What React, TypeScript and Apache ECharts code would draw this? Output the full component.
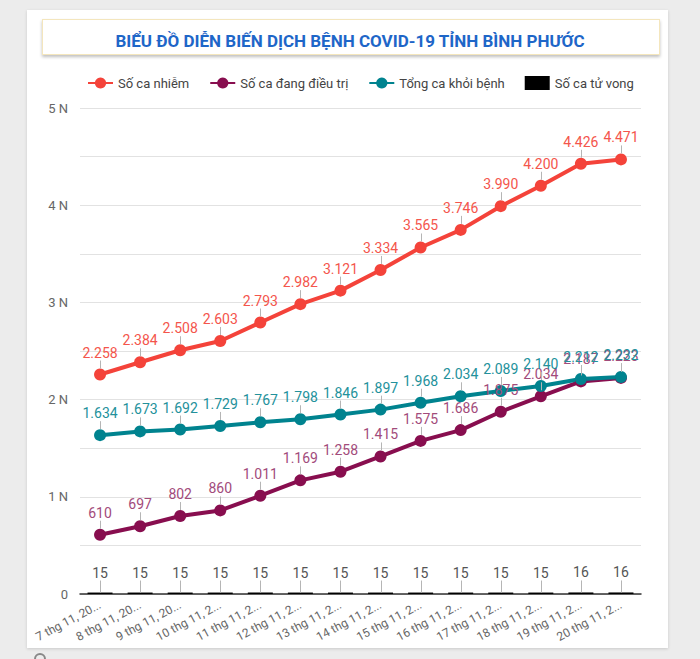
import React, { useEffect, useRef } from 'react';
import * as echarts from 'echarts';

const categories = [
  '7 thg 11, 2020', '8 thg 11, 2020', '9 thg 11, 2020', '10 thg 11, 2020',
  '11 thg 11, 2020', '12 thg 11, 2020', '13 thg 11, 2020', '14 thg 11, 2020',
  '15 thg 11, 2020', '16 thg 11, 2020', '17 thg 11, 2020', '18 thg 11, 2020',
  '19 thg 11, 2020', '20 thg 11, 2020',
];
const infected = [2258, 2384, 2508, 2603, 2793, 2982, 3121, 3334, 3565, 3746, 3990, 4200, 4426, 4471];
const treating = [610, 697, 802, 860, 1011, 1169, 1258, 1415, 1575, 1686, 1875, 2034, 2187, 2223];
const recovered = [1634, 1673, 1692, 1729, 1767, 1798, 1846, 1897, 1968, 2034, 2089, 2140, 2212, 2232];
const deaths = [15, 15, 15, 15, 15, 15, 15, 15, 15, 15, 15, 15, 16, 16];

const seriesNames = ['Số ca nhiễm', 'Số ca đang điều trị', 'Tổng ca khỏi bệnh', 'Số ca tử vong'];
const titleText = 'BIỂU ĐỒ DIỄN BIẾN DỊCH BỆNH COVID-19 TỈNH BÌNH PHƯỚC';

const fmt = (v: number) => String(v).replace(/\B(?=(\d{3})+(?!\d))/g, '.');
const FONT = 'Roboto, "Noto Sans", sans-serif';

function lineSeries(name: string, data: number[], color: string, labelColor: string) {
  return {
    name,
    type: 'line',
    data,
    symbol: 'circle',
    symbolSize: 12,
    lineStyle: { width: 4, color },
    itemStyle: { color },
    z: 3,
    label: {
      show: true,
      position: 'top',
      distance: 9,
      color: labelColor,
      fontSize: 14,
      fontFamily: FONT,
      formatter: (p: any) => fmt(p.value),
    },
  };
}

// small grey guide line between a point and its label
function leaderSeries(data: number[], from: number, to: number) {
  return {
    name: '_lead',
    type: 'custom',
    silent: true,
    z: 4,
    data: data.map((v, i) => [i, v]),
    renderItem: (params: any, api: any) => {
      const p = api.coord([api.value(0), api.value(1)]);
      const x = Math.round(p[0]) + 0.5;
      return {
        type: 'line',
        shape: { x1: x, y1: p[1] - from, x2: x, y2: p[1] - to },
        style: { stroke: '#b5b5b5', lineWidth: 1 },
      };
    },
  };
}

export default function App() {
  const ref = useRef<HTMLDivElement>(null);
  useEffect(() => {
    if (!ref.current) return;
    const chart = echarts.init(ref.current, null, { renderer: 'svg' });
    chart.setOption({
      animation: false,
      title: {
        text: titleText,
        left: 'center',
        top: 27,
        textStyle: { color: '#1e66c8', fontSize: 17, fontWeight: 'bold', fontFamily: FONT },
      },
      legend: {
        data: [
          { name: seriesNames[0] },
          { name: seriesNames[1] },
          { name: seriesNames[2] },
          { name: seriesNames[3], icon: 'rect' },
        ],
        top: 71,
        left: 82,
        itemWidth: 25,
        itemHeight: 14,
        itemGap: 20,
        textStyle: { color: '#444', fontSize: 13, fontFamily: FONT },
      },
      grid: { left: 80, right: 59, top: 108, bottom: 65, containLabel: false },
      xAxis: {
        type: 'category',
        data: categories,
        boundaryGap: true,
        axisLine: { lineStyle: { color: '#333', width: 1.5 } },
        axisTick: { show: false },
        axisLabel: {
          rotate: 28,
          color: '#666',
          fontSize: 12,
          fontFamily: FONT,
          margin: 10,
          formatter: (v: string) => (v.length > 12 ? v.slice(0, 12) + '...' : v),
        },
      },
      yAxis: {
        type: 'value',
        min: 0,
        max: 5000,
        interval: 500,
        axisLine: { show: false },
        axisTick: { show: false },
        splitLine: { lineStyle: { color: '#e2e2e2', width: 1 } },
        axisLabel: {
          color: '#666',
          fontSize: 13,
          fontFamily: FONT,
          margin: 12,
          formatter: (v: number) => (v === 0 ? '0' : v % 1000 === 0 ? v / 1000 + ' N' : ''),
        },
      },
      series: [
        {
          name: seriesNames[3],
          type: 'bar',
          data: deaths,
          barWidth: 25,
          itemStyle: { color: '#000' },
          z: 2,
          label: {
            show: true,
            position: 'top',
            distance: 13,
            color: '#555',
            fontSize: 14,
            fontFamily: FONT,
          },
        },
        leaderSeries(deaths, 0, 12),
        leaderSeries(infected, 6, 14),
        leaderSeries(treating, 6, 14),
        leaderSeries(recovered, 6, 14),
        lineSeries(seriesNames[0], infected, '#f4433a', '#f4554c'),
        lineSeries(seriesNames[1], treating, '#880e4f', '#a24b7b'),
        lineSeries(seriesNames[2], recovered, '#00838f', '#23919b'),
      ],
    });
    return () => chart.dispose();
  }, []);

  return (
    <div style={{ position: 'fixed', left: 0, top: 0, width: 700, height: 659, background: '#ececec', overflow: 'hidden' }}>
      <div style={{ position: 'absolute', left: 27, top: 10, width: 641, height: 638, background: '#fff', boxShadow: '0 1px 3px rgba(0,0,0,0.15)' }} />
      <div style={{ position: 'absolute', left: 42, top: 19, width: 616, height: 34, background: '#fff', border: '1px solid #f4e6bd', boxShadow: '0 2px 3px rgba(0,0,0,0.25)' }} />
      <div style={{ position: 'absolute', left: 34, top: 653, width: 12, height: 12, borderRadius: '50%', border: '2px solid #888', boxSizing: 'border-box' }} />
      <div ref={ref} style={{ position: 'absolute', left: 0, top: 0, width: 700, height: 659 }} />
    </div>
  );
}
